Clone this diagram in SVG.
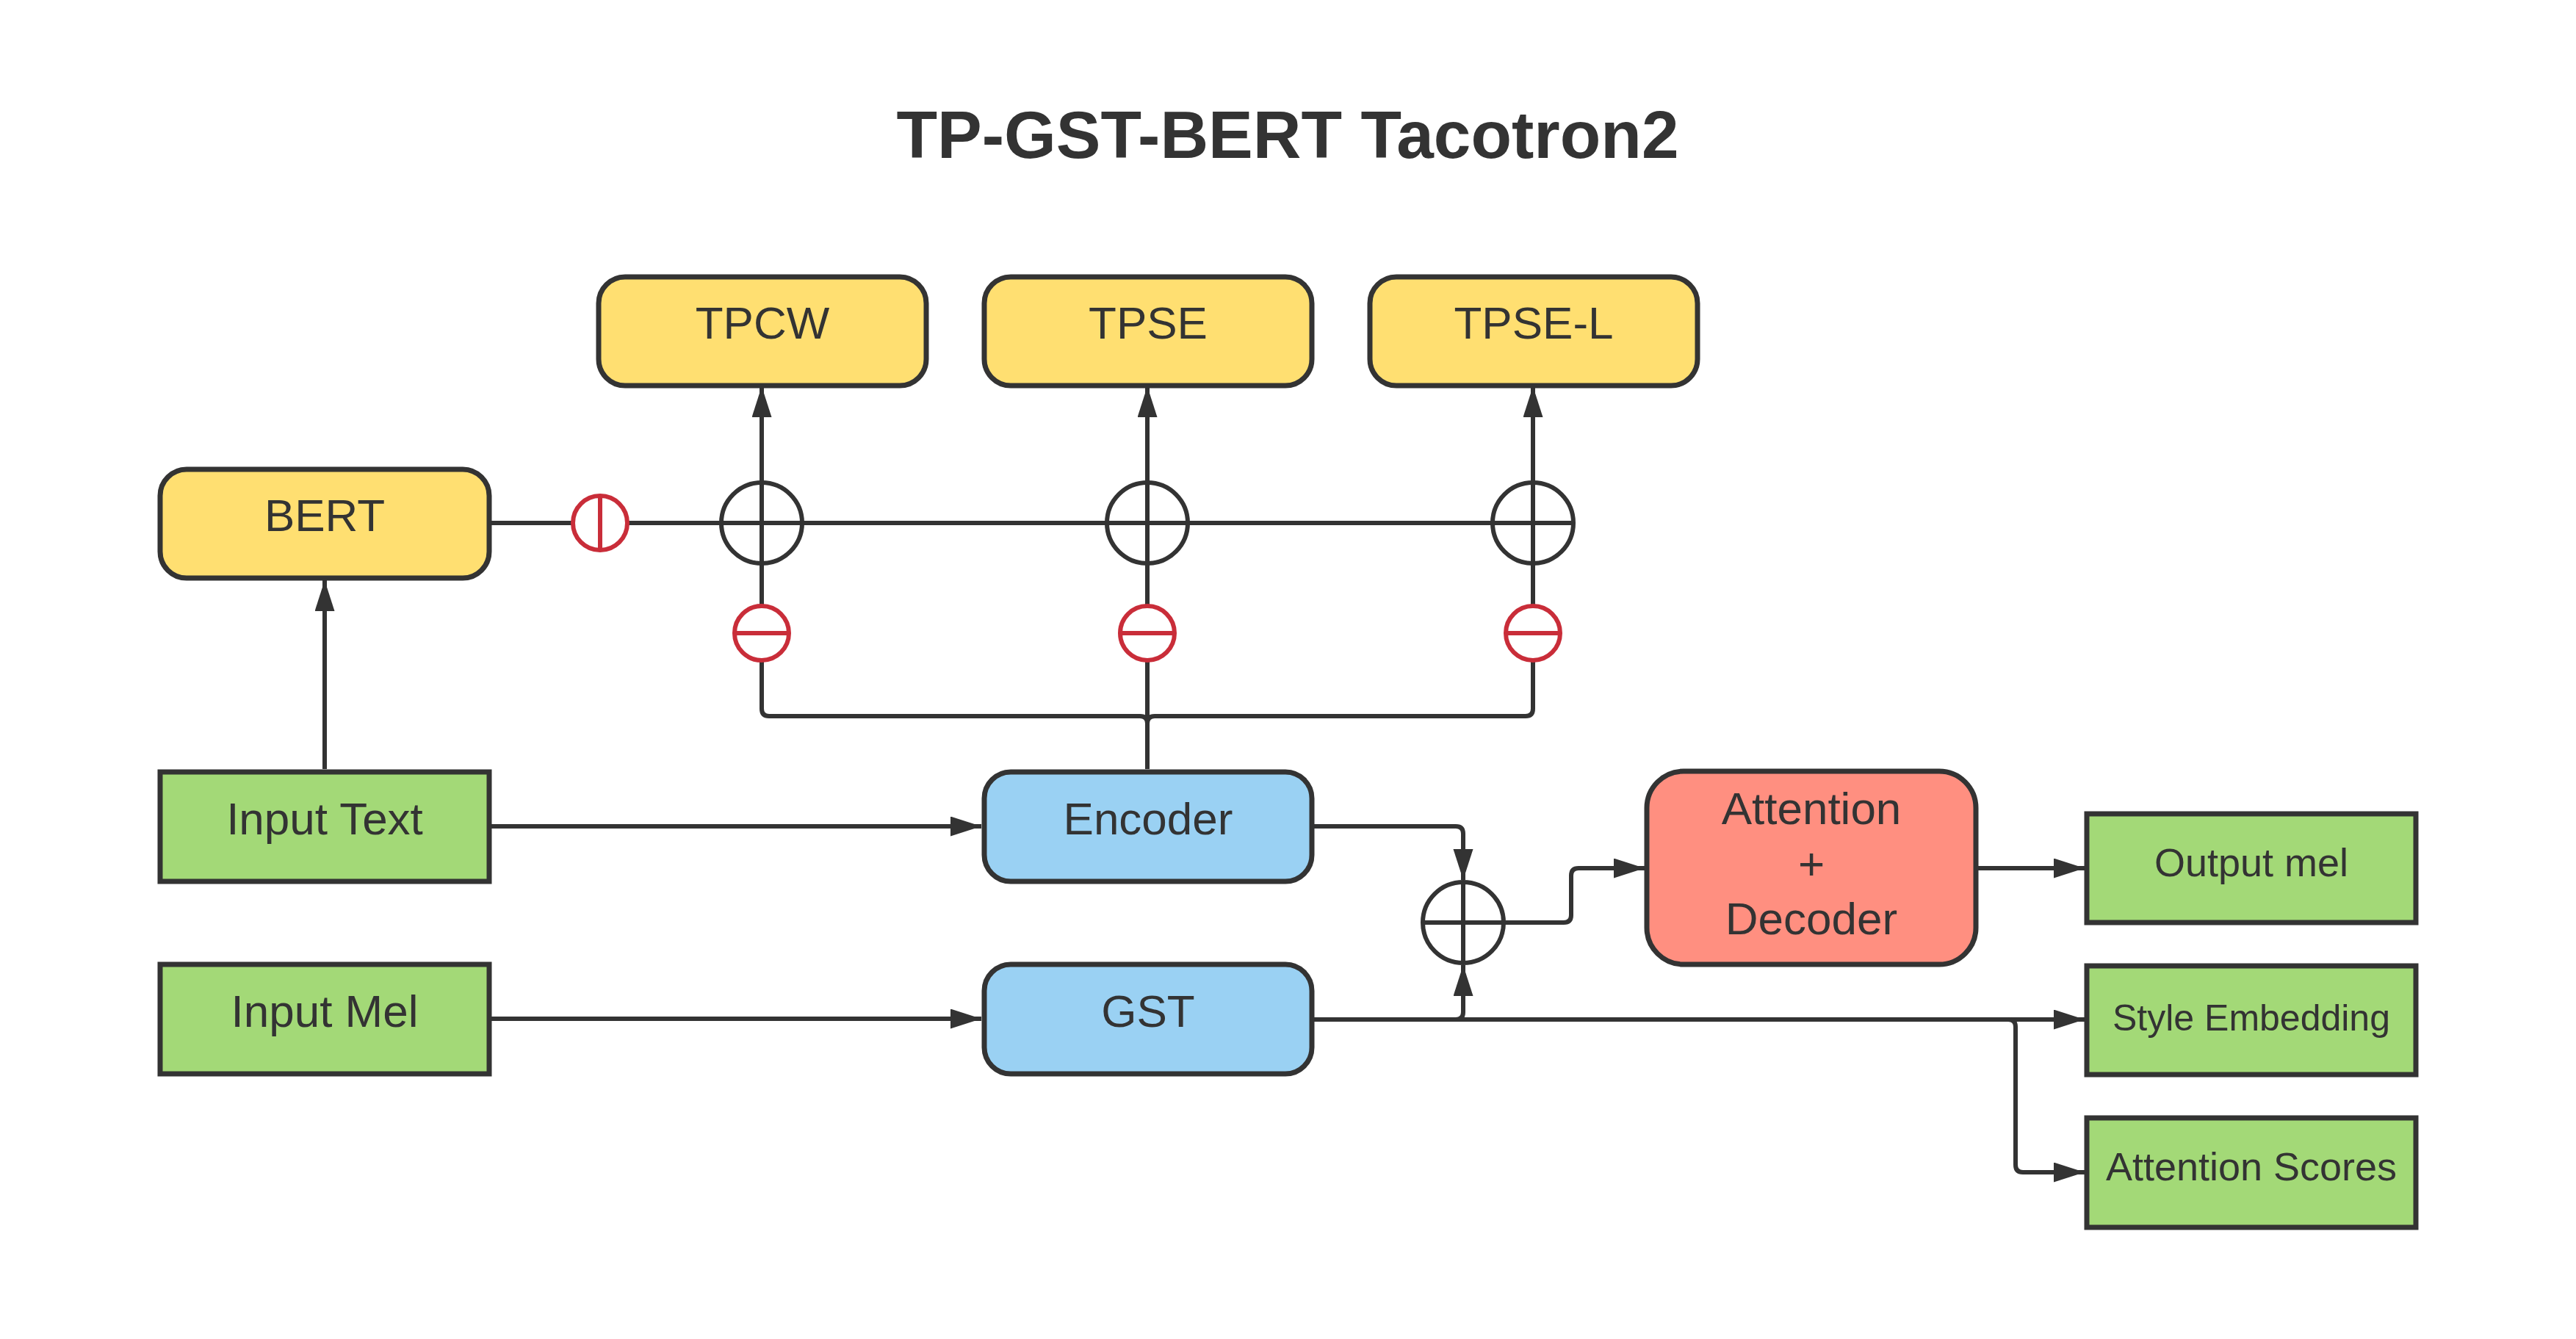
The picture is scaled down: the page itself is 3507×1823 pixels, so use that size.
<svg xmlns="http://www.w3.org/2000/svg" width="3507" height="1823" viewBox="0 0 3507 1823">
<defs>
<style>
.node{stroke:#333333;stroke-width:7}
.y{fill:#ffdf71}.b{fill:#9ad1f3}.g{fill:#a3d977}.r{fill:#ff8f80}
.t{font-family:"Liberation Sans",Arial,sans-serif;fill:#333333;text-anchor:middle;font-size:62px}
.s{font-size:54px}
.c{fill:none;stroke:#333333;stroke-width:6;stroke-linejoin:round}
.op{fill:none;stroke:#333333;stroke-width:6}
.red{fill:#ffffff;stroke:#c92d39;stroke-width:6}
.redl{stroke:#c92d39;stroke-width:6}
</style>
<marker id="ah" markerUnits="userSpaceOnUse" markerWidth="44" markerHeight="28" refX="42" refY="13.5" orient="auto">
<path d="M0,0 L42,13.5 L0,27 z" fill="#333333"/>
</marker>
</defs>
<rect width="3507" height="1823" fill="#ffffff"/>
<text x="1753" y="215" class="t" style="font-size:91px;font-weight:bold">TP-GST-BERT Tacotron2</text>

<g id="connectors">
<path class="c" d="M442,1047 V790" marker-end="url(#ah)"/>
<path class="c" d="M669,1125 H1336" marker-end="url(#ah)"/>
<path class="c" d="M669,1387 H1336" marker-end="url(#ah)"/>
<path class="c" d="M669,712 H2142"/>
<path class="c" d="M1037,825 V526" marker-end="url(#ah)"/>
<path class="c" d="M1562,825 V526" marker-end="url(#ah)"/>
<path class="c" d="M2087,825 V526" marker-end="url(#ah)"/>
<path class="c" d="M1562,1047 V900"/>
<path class="c" d="M1562,985 Q1562,975 1552,975 H1047 Q1037,975 1037,965 V900"/>
<path class="c" d="M1562,985 Q1562,975 1572,975 H2077 Q2087,975 2087,965 V900"/>
<path class="c" d="M1789,1125 H1982 Q1992,1125 1992,1135 V1198" marker-end="url(#ah)"/>
<path class="c" d="M1789,1388 H1982 Q1992,1388 1992,1378 V1314" marker-end="url(#ah)"/>
<path class="c" d="M1789,1388 H2838" marker-end="url(#ah)"/>
<path class="c" d="M2734,1388 Q2744,1388 2744,1398 V1586 Q2744,1596 2754,1596 H2838" marker-end="url(#ah)"/>
<path class="c" d="M2048,1256 H2129 Q2139,1256 2139,1246 V1192 Q2139,1182 2149,1182 H2239" marker-end="url(#ah)"/>
<path class="c" d="M2693,1182 H2838" marker-end="url(#ah)"/>
</g>

<g id="op-phi"><circle cx="817" cy="712" r="37" class="red"/><line x1="817" y1="675" x2="817" y2="749" class="redl"/></g>
<g id="op-plus1"><circle cx="1037" cy="712" r="55" class="op"/></g>
<g id="op-plus2"><circle cx="1562" cy="712" r="55" class="op"/></g>
<g id="op-plus3"><circle cx="2087" cy="712" r="55" class="op"/></g>
<g id="op-minus1"><circle cx="1037" cy="862" r="37" class="red"/><line x1="1000" y1="862" x2="1074" y2="862" class="redl"/></g>
<g id="op-minus2"><circle cx="1562" cy="862" r="37" class="red"/><line x1="1525" y1="862" x2="1599" y2="862" class="redl"/></g>
<g id="op-minus3"><circle cx="2087" cy="862" r="37" class="red"/><line x1="2050" y1="862" x2="2124" y2="862" class="redl"/></g>
<g id="op-sum"><circle cx="1992" cy="1256" r="55" fill="#ffffff" class="op"/><line x1="1992" y1="1201" x2="1992" y2="1311" class="op"/><line x1="1937" y1="1256" x2="2047" y2="1256" class="op"/></g>

<g id="bert"><rect x="218" y="639" width="448" height="148" rx="36" class="node y"/><text x="442" y="723" class="t">BERT</text></g>
<g id="tpcw"><rect x="815" y="377" width="446" height="148" rx="36" class="node y"/><text x="1038" y="461" class="t">TPCW</text></g>
<g id="tpse"><rect x="1340" y="377" width="446" height="148" rx="36" class="node y"/><text x="1563" y="461" class="t">TPSE</text></g>
<g id="tpse-l"><rect x="1865" y="377" width="446" height="148" rx="36" class="node y"/><text x="2088" y="461" class="t">TPSE-L</text></g>
<g id="input-text"><rect x="218" y="1051" width="448" height="149" class="node g"/><text x="442" y="1136" class="t">Input Text</text></g>
<g id="input-mel"><rect x="218" y="1313" width="448" height="149" class="node g"/><text x="442" y="1398" class="t">Input Mel</text></g>
<g id="encoder"><rect x="1340" y="1051" width="446" height="149" rx="36" class="node b"/><text x="1563" y="1136" class="t">Encoder</text></g>
<g id="gst"><rect x="1340" y="1313" width="446" height="149" rx="36" class="node b"/><text x="1563" y="1398" class="t">GST</text></g>
<g id="attention-decoder"><rect x="2242" y="1050" width="448" height="263" rx="50" class="node r"/><text x="2466" y="1122" class="t">Attention</text><text x="2466" y="1197" class="t">+</text><text x="2466" y="1272" class="t">Decoder</text></g>
<g id="output-mel"><rect x="2841" y="1108" width="448" height="148" class="node g"/><text x="3065" y="1193" class="t s">Output mel</text></g>
<g id="style-embedding"><rect x="2841" y="1315" width="448" height="148" class="node g"/><text x="3065" y="1403" class="t" style="font-size:50px">Style Embedding</text></g>
<g id="attention-scores"><rect x="2841" y="1522" width="448" height="149" class="node g"/><text x="3065" y="1607" class="t s">Attention Scores</text></g>
</svg>
